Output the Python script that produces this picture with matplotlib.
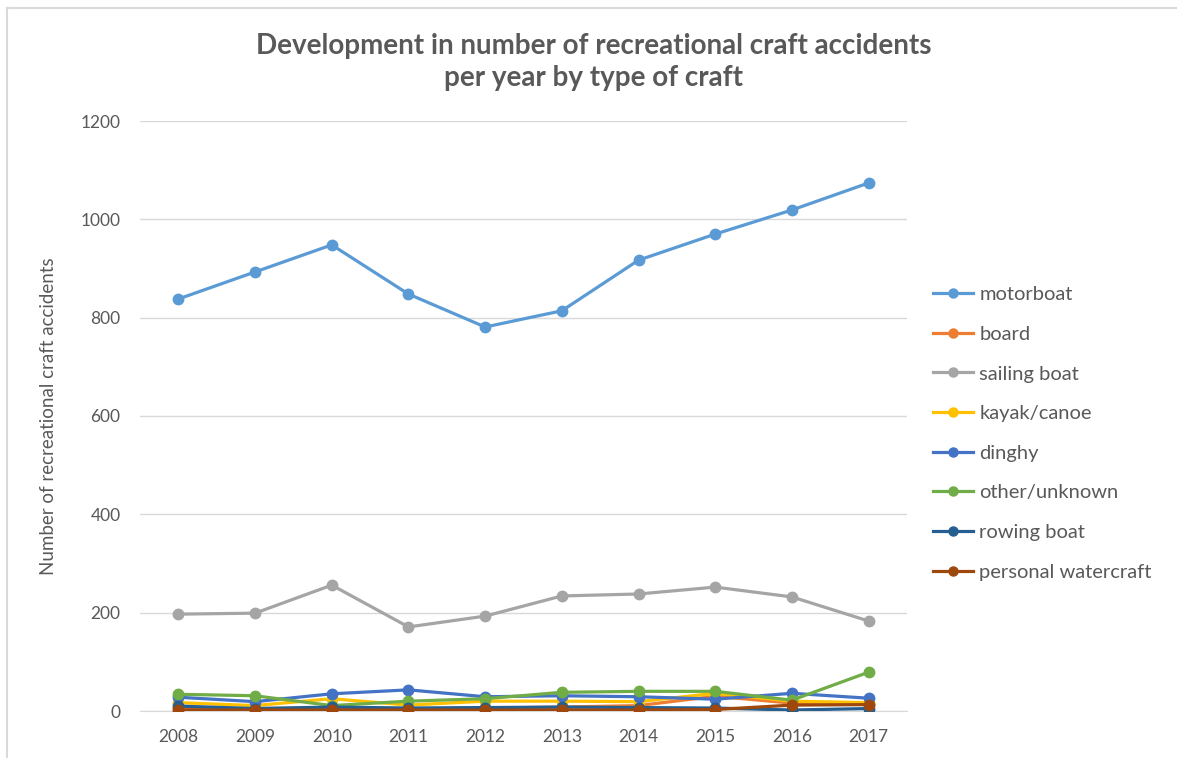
import matplotlib
matplotlib.use("Agg")
import matplotlib.pyplot as plt
from matplotlib.lines import Line2D

years = [2008, 2009, 2010, 2011, 2012, 2013, 2014, 2015, 2016, 2017]

motorboat = [838, 893, 948, 848, 781, 814, 917, 970, 1019, 1074]
board = [7, 5, 6, 5, 6, 8, 11, 30, 16, 14]
sailing_boat = [197, 199, 256, 171, 193, 234, 238, 252, 232, 183]
kayak_canoe = [17, 11, 25, 12, 20, 20, 19, 36, 20, 17]
dinghy = [28, 19, 35, 43, 29, 31, 29, 24, 36, 26]
other_unknown = [34, 31, 11, 20, 25, 38, 40, 40, 22, 79]
rowing_boat = [10, 5, 8, 6, 7, 8, 7, 6, 2, 5]
personal_watercraft = [2, 2, 2, 2, 2, 2, 2, 3, 12, 13]

series = [
    ("motorboat", motorboat, "#5B9BD5"),
    ("board", board, "#ED7D31"),
    ("sailing boat", sailing_boat, "#A5A5A5"),
    ("kayak/canoe", kayak_canoe, "#FFC000"),
    ("dinghy", dinghy, "#4472C4"),
    ("other/unknown", other_unknown, "#70AD47"),
    ("rowing boat", rowing_boat, "#255E91"),
    ("personal watercraft", personal_watercraft, "#9E480E"),
]

plt.rcParams["font.family"] = ["Lato", "DejaVu Sans"]
text_color = "#595959"

fig = plt.figure(figsize=(11.77, 7.58), dpi=100, facecolor="white")
ax = fig.add_axes([140 / 1177, 47 / 758, 767 / 1177, 590 / 758])

for name, vals, col in series:
    ax.plot(years, vals, color=col, linewidth=2.3, marker="o", markersize=7.5,
            label=name, solid_capstyle="round", zorder=3)

ax.set_xlim(2007.5, 2017.5)
ax.set_ylim(0, 1200)
ax.set_yticks(range(0, 1201, 200))
ax.set_xticks(years)
ax.grid(axis="y", color="#d9d9d9", linewidth=1)
ax.set_axisbelow(True)
for side in ["top", "right", "left"]:
    ax.spines[side].set_visible(False)
ax.spines["bottom"].set_color("#d9d9d9")
ax.tick_params(length=0, labelsize=12.5, colors=text_color, pad=14)
ax.tick_params(axis="x", pad=13)

ax.set_ylabel("Number of recreational craft accidents", fontsize=13.5,
              color=text_color, labelpad=17)

fig.text(594 / 1177, 1 - 62 / 758,
         "Development in number of recreational craft accidents\nper year by type of craft",
         ha="center", va="center", fontsize=20, fontweight="bold",
         color=text_color, linespacing=1.3)

handles = [Line2D([0], [0], color=c, linewidth=2.3, marker="o", markersize=6.5)
           for _, _, c in series]
leg = fig.legend(handles, [s[0] for s in series], loc="upper left",
                 bbox_to_anchor=(915 / 1177, 1 - 268 / 758), frameon=False,
                 fontsize=14.5, labelspacing=1.12, handlelength=2.0,
                 handletextpad=0.3)
for t in leg.get_texts():
    t.set_color(text_color)

# light frame on the left and top edges
fig.add_artist(Line2D([7 / 1177, 7 / 1177], [0, 1 - 8 / 758],
                      transform=fig.transFigure, color="#d9d9d9", linewidth=1.5))
fig.add_artist(Line2D([7 / 1177, 1], [1 - 8 / 758, 1 - 8 / 758],
                      transform=fig.transFigure, color="#d9d9d9", linewidth=1.5))

fig.savefig("out.png", dpi=100, facecolor="white")
